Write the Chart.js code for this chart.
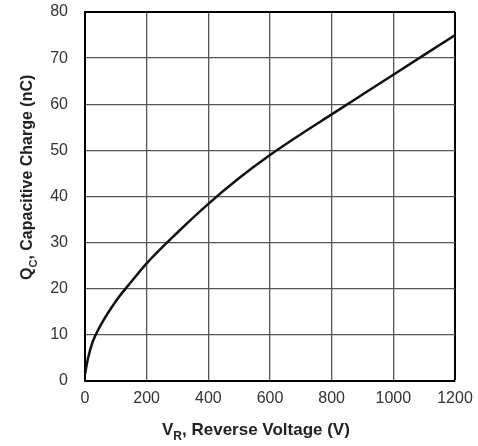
<!DOCTYPE html>
<html>
<head>
<meta charset="utf-8">
<script src="https://cdn.jsdelivr.net/npm/chart.js@4.4.0/dist/chart.umd.min.js"></script>
<style>
  body { margin: 0; background: #fff; }
</style>
</head>
<body>
<canvas id="qcChart" width="478" height="446"></canvas>
<script>
    // reverse voltage (V) and capacitive charge (nC)
    const voltage = [0, 10, 25, 50, 100, 150, 200, 300, 400, 500, 600, 700, 800, 900, 1000, 1100, 1200];
    const charge = [1.5, 5, 8.5, 12, 17.3, 21.5, 25.5, 32.2, 38.4, 44, 49, 53.5, 57.8, 62.1, 66.4, 70.7, 75];

    const xTicks = [0, 200, 400, 600, 800, 1000, 1200];
    const yTicks = [0, 10, 20, 30, 40, 50, 60, 70, 80];

    const points = voltage.map(function(v, i) {
        return { x: v, y: charge[i] };
    });

    // axis titles with subscripts
    const axisTitles = {
        id: 'axisTitles',
        afterDraw: function(chart) {
            const ctx = chart.ctx;
            ctx.save();
            ctx.fillStyle = '#222';
            ctx.textBaseline = 'alphabetic';
            ctx.textAlign = 'left';

            // x title
            let main = 'bold 17px "Liberation Sans", Arial, sans-serif';
            let sub = 'bold 12px "Liberation Sans", Arial, sans-serif';
            let x = 162, y = 435;
            ctx.font = main;
            ctx.fillText('V', x, y);
            x += ctx.measureText('V').width;
            ctx.font = sub;
            ctx.fillText('R', x, y + 5);
            x += ctx.measureText('R').width;
            ctx.font = main;
            ctx.fillText(', Reverse Voltage (V)', x, y);

            // y title, rotated
            main = 'bold 16px "Liberation Sans", Arial, sans-serif';
            sub = 'bold 11px "Liberation Sans", Arial, sans-serif';
            ctx.translate(32, 280);
            ctx.rotate(-Math.PI / 2);
            x = 0;
            ctx.font = main;
            ctx.fillText('Q', x, 0);
            x += ctx.measureText('Q').width;
            ctx.font = sub;
            ctx.fillText('C', x, 5);
            x += ctx.measureText('C').width;
            ctx.font = main;
            ctx.fillText(', Capacitive Charge (nC)', x, 0);
            ctx.restore();
        }
    };

    const tickFont = { family: '"Liberation Sans", Arial, sans-serif', size: 16 };

    const config = {
        type: 'line',
        data: {
            datasets: [{
                data: points,
                borderColor: '#111',
                borderWidth: 2.5,
                pointRadius: 0,
                fill: false,
                cubicInterpolationMode: 'monotone'
            }]
        },
        options: {
            responsive: false,
            animation: false,
            layout: {
                padding: { top: 12, right: 23, left: 0, bottom: 0 }
            },
            scales: {
                x: {
                    type: 'linear',
                    min: 0,
                    max: 1200,
                    afterBuildTicks: function(scale) {
                        scale.ticks = xTicks.map(function(v) { return { value: v }; });
                    },
                    afterFit: function(scale) {
                        scale.height = 65;
                        scale.paddingLeft = 0;
                        scale.paddingRight = 0;
                    },
                    ticks: {
                        color: '#333',
                        font: tickFont,
                        padding: 8,
                        maxRotation: 0,
                        callback: function(v) { return String(v); }
                    },
                    grid: {
                        drawTicks: false,
                        color: function(c) { return c.tick && c.tick.value === 1200 ? '#000' : '#555'; },
                        lineWidth: function(c) { return c.tick && c.tick.value === 1200 ? 2 : 1.3; }
                    },
                    border: { color: '#000', width: 2 }
                },
                y: {
                    min: 0,
                    max: 80,
                    afterBuildTicks: function(scale) {
                        scale.ticks = yTicks.map(function(v) { return { value: v }; });
                    },
                    afterFit: function(scale) {
                        scale.width = 85;
                        scale.paddingTop = 0;
                        scale.paddingBottom = 0;
                    },
                    ticks: {
                        color: '#333',
                        font: tickFont,
                        padding: 17,
                        callback: function(v) { return String(v); }
                    },
                    grid: {
                        drawTicks: false,
                        color: function(c) { return c.tick && c.tick.value === 80 ? '#000' : '#555'; },
                        lineWidth: function(c) { return c.tick && c.tick.value === 80 ? 2 : 1.3; }
                    },
                    border: { color: '#000', width: 2 }
                }
            },
            plugins: {
                legend: { display: false },
                tooltip: { enabled: false }
            }
        },
        plugins: [axisTitles]
    };

    new Chart(document.getElementById('qcChart'), config);
</script>
</body>
</html>
